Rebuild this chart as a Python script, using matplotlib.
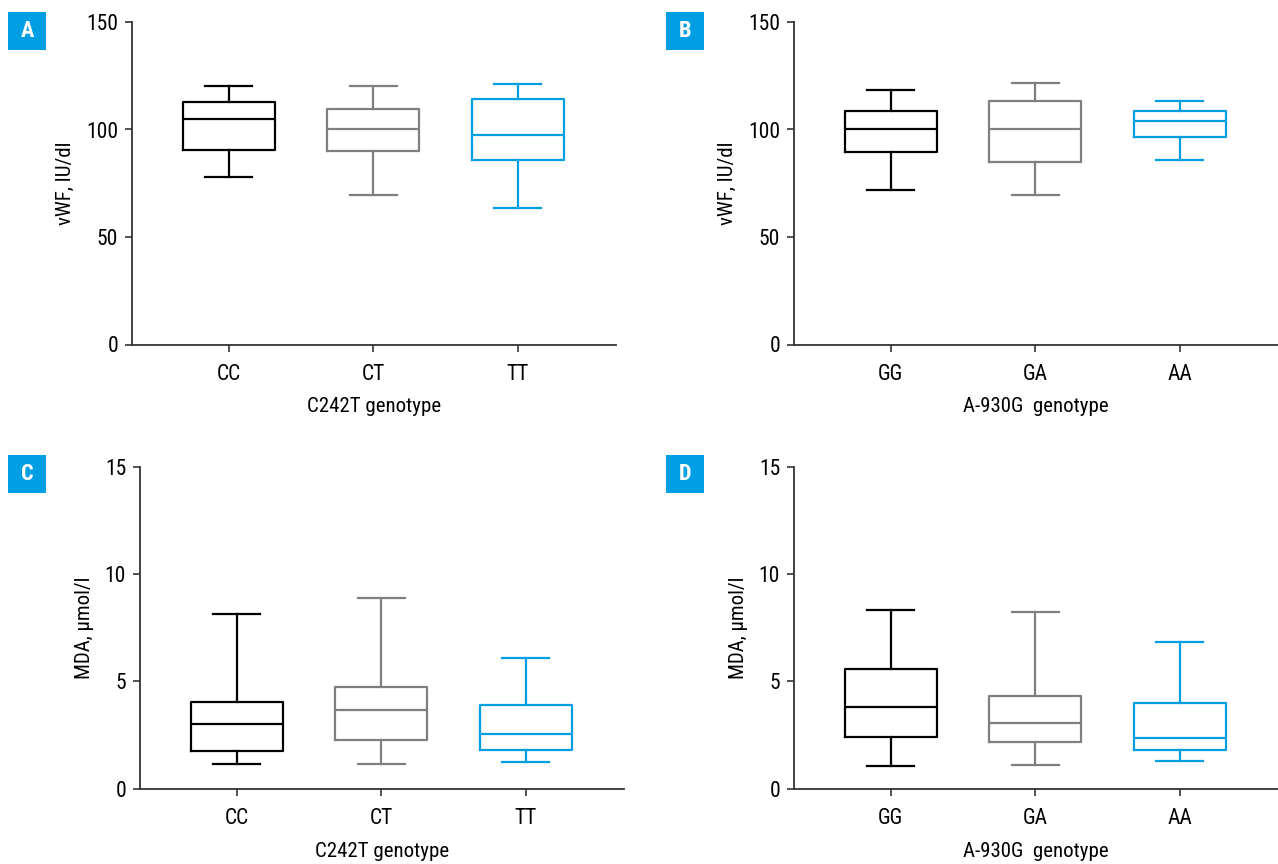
import matplotlib
matplotlib.use("Agg")
import matplotlib.pyplot as plt
from matplotlib.patches import Rectangle

plt.rcParams['font.family'] = ['Roboto Condensed', 'Liberation Sans Narrow', 'Roboto', 'DejaVu Sans']

# five-number summaries: whislo, q1, med, q3, whishi
c242t_labels = ['CC', 'CT', 'TT']
a930g_labels = ['GG', 'GA', 'AA']

vwf_c242t = [[78, 90.5, 105, 113, 120],
             [69.7, 90, 100, 109.7, 120],
             [63.3, 85.8, 97.4, 114, 121.2]]
vwf_a930g = [[72, 89.7, 100, 108.5, 118.4],
             [69.7, 85, 100, 113.4, 121.5],
             [86, 96.7, 104, 108.6, 113.4]]
mda_c242t = [[1.13, 1.77, 3.01, 4.06, 8.13],
             [1.13, 2.27, 3.66, 4.73, 8.88],
             [1.24, 1.79, 2.56, 3.89, 6.11]]
mda_a930g = [[1.05, 2.43, 3.83, 5.57, 8.32],
             [1.11, 2.16, 3.06, 4.34, 8.26],
             [1.31, 1.81, 2.35, 3.98, 6.85]]

colors = ['#000000', '#7f7f7f', '#009fe3']
W, H = 1278, 864

fig = plt.figure(figsize=(W / 100, H / 100), dpi=100)

def make_stats(rows, labels):
    out = []
    for r, lab in zip(rows, labels):
        out.append(dict(whislo=r[0], q1=r[1], med=r[2], q3=r[3], whishi=r[4], label=lab, fliers=[]))
    return out

def panel(px_left, px_top, px_bottom, rows, labels, ymax, yticks, ylabel, xlabel, letter, lx, ly):
    ax = fig.add_axes([px_left / W, (H - px_bottom) / H, 484 / W, (px_bottom - px_top) / H])
    stats = make_stats(rows, labels)
    for i, s in enumerate(stats):
        c = colors[i]
        ax.bxp([s], positions=[i], widths=0.635, showfliers=False,
               boxprops=dict(color=c, linewidth=1.6),
               medianprops=dict(color=c, linewidth=1.6),
               whiskerprops=dict(color=c, linewidth=1.6),
               capprops=dict(color=c, linewidth=1.6),
               capwidths=0.325, manage_ticks=False)
    ax.set_xlim(-0.67, 2.68)
    ax.set_ylim(0, ymax)
    ax.set_yticks(yticks)
    ax.set_xticks(range(3))
    ax.set_xticklabels(labels)
    for sp in ['top', 'right']:
        ax.spines[sp].set_visible(False)
    for sp in ['left', 'bottom']:
        ax.spines[sp].set_color('#333333')
        ax.spines[sp].set_linewidth(1.3)
    ax.spines['left'].set_bounds(0, ymax)
    ax.tick_params(axis='both', direction='out', length=5, width=1.2, color='#333333',
                   labelsize=15.5, pad=5)
    ax.tick_params(axis='x', pad=9)
    ax.set_ylabel(ylabel, fontsize=15, labelpad=8)
    ax.set_xlabel(xlabel, fontsize=15, labelpad=9)
    fig.patches.append(Rectangle((lx / W, (H - ly - 38) / H), 38 / W, 38 / H,
                                 transform=fig.transFigure, facecolor='#009fe3',
                                 edgecolor='none'))
    fig.text((lx + 19) / W, (H - ly - 19) / H, letter, color='white', fontsize=16,
             fontweight='bold', ha='center', va='center')
    return ax

panel(132, 22, 344.5, vwf_c242t, c242t_labels, 150, [0, 50, 100, 150],
      'vWF, IU/dl', 'C242T genotype', 'A', 8, 12)
panel(794, 22, 344.5, vwf_a930g, a930g_labels, 150, [0, 50, 100, 150],
      'vWF, IU/dl', 'A-930G  genotype', 'B', 666, 12)
panel(140, 467, 788.7, mda_c242t, c242t_labels, 15, [0, 5, 10, 15],
      'MDA, μmol/l', 'C242T genotype', 'C', 8, 455)
panel(794, 467, 788.7, mda_a930g, a930g_labels, 15, [0, 5, 10, 15],
      'MDA, μmol/l', 'A-930G  genotype', 'D', 666, 455)

fig.savefig('out.png', dpi=100)
